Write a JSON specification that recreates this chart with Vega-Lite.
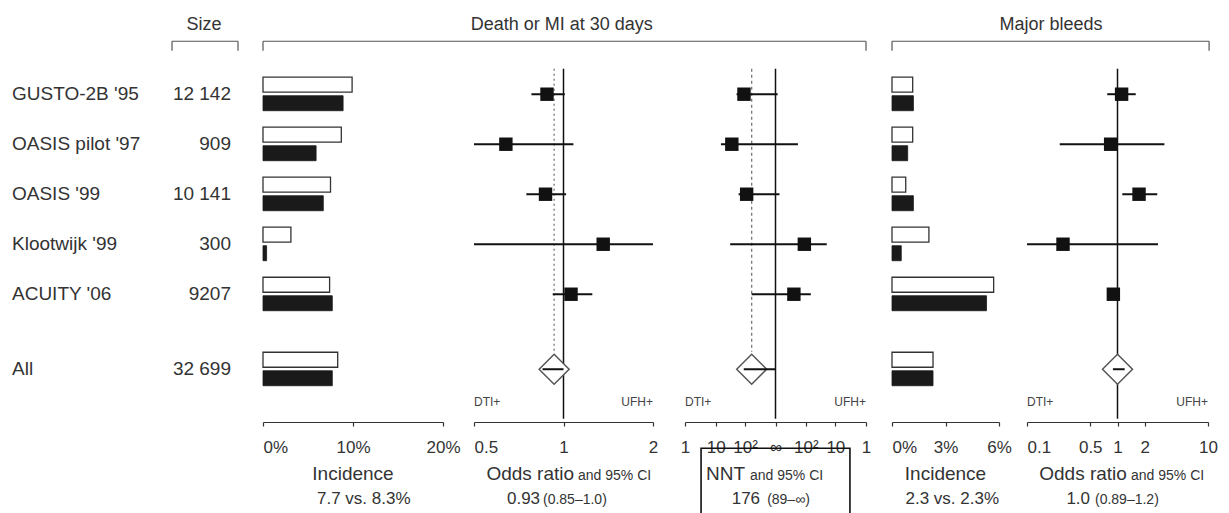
{
 "$schema": "https://vega.github.io/schema/vega-lite/v6.json",
 "width": 1229, "height": 513, "padding": 0,
 "autosize": {"type": "none"},
 "background": "white",
 "config": {
  "view": {"stroke": null},
  "font": "Liberation Sans",
  "axis": {"grid": false, "title": null, "labelFont": "Liberation Sans", "labelFontSize": 17, "labelColor": "#333", "domainColor": "#333", "tickColor": "#333", "domainWidth": 1.2, "tickWidth": 1.2, "labelOverlap": false, "labelBound": false, "labelFlush": false},
  "text": {"font": "Liberation Sans", "color": "#333"}
 },
 "datasets": {
  "rows": [
   {"study": "GUSTO-2B '95", "n": "12 142", "row": 1, "pooled": false, "inc_ufh": 9.9, "inc_dti": 8.9, "or": 0.88, "or_lo": 0.78, "or_hi": 1.01, "ard": -0.011, "ard_lo": -0.02, "ard_hi": 0.0002, "mb_ufh": 1.16, "mb_dti": 1.2, "mb_or": 1.11, "mb_lo": 0.77, "mb_hi": 1.59},
   {"study": "OASIS pilot '97", "n": "909", "row": 2, "pooled": false, "inc_ufh": 8.7, "inc_dti": 5.9, "or": 0.64, "or_lo": 0.5, "or_hi": 1.08, "ard": -0.029, "ard_lo": -0.067, "ard_hi": 0.005, "mb_ufh": 1.16, "mb_dti": 0.88, "mb_or": 0.84, "mb_lo": 0.23, "mb_hi": 3.3},
   {"study": "OASIS '99", "n": "10 141", "row": 3, "pooled": false, "inc_ufh": 7.5, "inc_dti": 6.7, "or": 0.87, "or_lo": 0.75, "or_hi": 1.02, "ard": -0.0088, "ard_lo": -0.017, "ard_hi": 0.0004, "mb_ufh": 0.77, "mb_dti": 1.2, "mb_or": 1.73, "mb_lo": 1.13, "mb_hi": 2.75},
   {"study": "Klootwijk '99", "n": "300", "row": 4, "pooled": false, "inc_ufh": 3.1, "inc_dti": 0.4, "or": 1.36, "or_lo": 0.5, "or_hi": 2.0, "ard": 0.0088, "ard_lo": -0.033, "ard_hi": 0.052, "mb_ufh": 2.07, "mb_dti": 0.52, "mb_or": 0.25, "mb_lo": 0.1, "mb_hi": 2.8},
   {"study": "ACUITY '06", "n": "9207", "row": 5, "pooled": false, "inc_ufh": 7.4, "inc_dti": 7.7, "or": 1.06, "or_lo": 0.92, "or_hi": 1.25, "ard": 0.0034, "ard_lo": -0.0057, "ard_hi": 0.015, "mb_ufh": 5.7, "mb_dti": 5.3, "mb_or": 0.9, "mb_lo": 0.8, "mb_hi": 1.03},
   {"study": "All", "n": "32 699", "row": 6.5, "pooled": true, "inc_ufh": 8.3, "inc_dti": 7.7, "or": 0.93, "or_lo": 0.85, "or_hi": 1.0, "ard": -0.00568, "ard_lo": -0.0112, "ard_hi": 0, "mb_ufh": 2.3, "mb_dti": 2.3, "mb_or": 1.0, "mb_lo": 0.89, "mb_hi": 1.2}
  ]
 },
 "resolve": {"scale": {"x": "independent"}},
 "layer": [
  {"layer": [
   {"data": {"name": "rows"}, "mark": {"type": "text", "align": "left", "fontSize": 19, "color": "#333"},
    "encoding": {"x": {"datum": 0, "type": "quantitative", "scale": {"domain": [0, 1], "range": [12, 231], "nice": false, "zero": false}, "axis": null},
     "y": {"field": "row", "type": "quantitative", "scale": {"domain": [-0.784, 9.275], "reverse": true, "nice": false, "zero": false}, "axis": null},
     "text": {"field": "study"}}},
   {"data": {"name": "rows"}, "mark": {"type": "text", "align": "right", "fontSize": 19, "color": "#333"},
    "encoding": {"x": {"datum": 1, "type": "quantitative", "scale": {"domain": [0, 1], "range": [12, 231], "nice": false, "zero": false}, "axis": null},
     "y": {"field": "row", "type": "quantitative", "scale": {"domain": [-0.784, 9.275], "reverse": true, "nice": false, "zero": false}, "axis": null},
     "text": {"field": "n"}}},
   {"data": {"values": [{}]}, "mark": {"type": "text", "fontSize": 18, "color": "#333", "text": "Size"},
    "encoding": {"x": {"datum": 0.877, "type": "quantitative", "scale": {"domain": [0, 1], "range": [12, 231], "nice": false, "zero": false}, "axis": null},
     "y": {"datum": -0.392, "type": "quantitative", "scale": {"domain": [-0.784, 9.275], "reverse": true, "nice": false, "zero": false}, "axis": null}}},
   {"data": {"values": [{}]}, "mark": {"type": "rule", "color": "#555", "strokeWidth": 1.2},
    "encoding": {"x": {"datum": 0.7306, "type": "quantitative", "scale": {"domain": [0, 1], "range": [12, 231], "nice": false, "zero": false}, "axis": null}, "x2": {"datum": 1.032},
     "y": {"datum": -0.059, "type": "quantitative", "scale": {"domain": [-0.784, 9.275], "reverse": true, "nice": false, "zero": false}, "axis": null}}},
   {"data": {"values": [{}]}, "mark": {"type": "rule", "color": "#555", "strokeWidth": 1.2},
    "encoding": {"x": {"datum": 0.7306, "type": "quantitative", "scale": {"domain": [0, 1], "range": [12, 231], "nice": false, "zero": false}, "axis": null},
     "y": {"datum": -0.059, "type": "quantitative", "scale": {"domain": [-0.784, 9.275], "reverse": true, "nice": false, "zero": false}, "axis": null}, "y2": {"datum": 0.131}}},
   {"data": {"values": [{}]}, "mark": {"type": "rule", "color": "#555", "strokeWidth": 1.2},
    "encoding": {"x": {"datum": 1.032, "type": "quantitative", "scale": {"domain": [0, 1], "range": [12, 231], "nice": false, "zero": false}, "axis": null},
     "y": {"datum": -0.059, "type": "quantitative", "scale": {"domain": [-0.784, 9.275], "reverse": true, "nice": false, "zero": false}, "axis": null}, "y2": {"datum": 0.131}}}
  ]},
  {"layer": [
   {"data": {"name": "rows"}, "mark": {"type": "bar", "orient": "horizontal", "size": 15, "yOffset": -9.5, "fill": "white", "stroke": "#333", "strokeWidth": 1.3},
    "encoding": {"x": {"field": "inc_ufh", "type": "quantitative", "scale": {"domain": [0, 20], "range": [263, 443], "nice": false, "zero": false},
      "axis": {"title": null, "orient": "bottom", "offset": -91, "values": [0, 10, 20], "labelExpr": "datum.value + '%'", "tickSize": 4, "labelPadding": 13, "labelAlign": {"condition": {"test": "datum.value == 0", "value": "left"}, "value": "center"}}},
     "x2": {"datum": 0},
     "y": {"field": "row", "type": "quantitative", "scale": {"domain": [-0.784, 9.275], "reverse": true, "nice": false, "zero": false}, "axis": null}}},
   {"data": {"name": "rows"}, "mark": {"type": "bar", "orient": "horizontal", "size": 15, "yOffset": 9, "fill": "#1a1a1a", "stroke": "#1a1a1a", "strokeWidth": 0.8},
    "encoding": {"x": {"field": "inc_dti", "type": "quantitative", "scale": {"domain": [0, 20], "range": [263, 443], "nice": false, "zero": false}},
     "x2": {"datum": 0},
     "y": {"field": "row", "type": "quantitative", "scale": {"domain": [-0.784, 9.275], "reverse": true, "nice": false, "zero": false}, "axis": null}}},
   {"data": {"values": [{}]}, "mark": {"type": "rule", "color": "#555", "strokeWidth": 1.2},
    "encoding": {"x": {"datum": 0, "type": "quantitative", "scale": {"domain": [0, 20], "range": [263, 443], "nice": false, "zero": false}}, "x2": {"datum": 67},
     "y": {"datum": -0.059, "type": "quantitative", "scale": {"domain": [-0.784, 9.275], "reverse": true, "nice": false, "zero": false}, "axis": null}}},
   {"data": {"values": [{}]}, "mark": {"type": "rule", "color": "#555", "strokeWidth": 1.2},
    "encoding": {"x": {"datum": 0, "type": "quantitative", "scale": {"domain": [0, 20], "range": [263, 443], "nice": false, "zero": false}},
     "y": {"datum": -0.059, "type": "quantitative", "scale": {"domain": [-0.784, 9.275], "reverse": true, "nice": false, "zero": false}, "axis": null}, "y2": {"datum": 0.131}}},
   {"data": {"values": [{}]}, "mark": {"type": "rule", "color": "#555", "strokeWidth": 1.2},
    "encoding": {"x": {"datum": 67, "type": "quantitative", "scale": {"domain": [0, 20], "range": [263, 443], "nice": false, "zero": false}},
     "y": {"datum": -0.059, "type": "quantitative", "scale": {"domain": [-0.784, 9.275], "reverse": true, "nice": false, "zero": false}, "axis": null}, "y2": {"datum": 0.131}}},
   {"data": {"values": [{}]}, "mark": {"type": "text", "fontSize": 18, "color": "#333", "text": "Death or MI at 30 days"},
    "encoding": {"x": {"datum": 33.2, "type": "quantitative", "scale": {"domain": [0, 20], "range": [263, 443], "nice": false, "zero": false}},
     "y": {"datum": -0.392, "type": "quantitative", "scale": {"domain": [-0.784, 9.275], "reverse": true, "nice": false, "zero": false}, "axis": null}}},
   {"data": {"values": [{}]}, "mark": {"type": "text", "fontSize": 19, "color": "#333", "baseline": "alphabetic", "text": "Incidence"},
    "encoding": {"x": {"datum": 10, "type": "quantitative", "scale": {"domain": [0, 20], "range": [263, 443], "nice": false, "zero": false}},
     "y": {"datum": 8.706, "type": "quantitative", "scale": {"domain": [-0.784, 9.275], "reverse": true, "nice": false, "zero": false}, "axis": null}}},
   {"data": {"values": [{}]}, "mark": {"type": "text", "fontSize": 17, "color": "#333", "baseline": "alphabetic", "text": "7.7 vs. 8.3%"},
    "encoding": {"x": {"datum": 11.2, "type": "quantitative", "scale": {"domain": [0, 20], "range": [263, 443], "nice": false, "zero": false}},
     "y": {"datum": 9.196, "type": "quantitative", "scale": {"domain": [-0.784, 9.275], "reverse": true, "nice": false, "zero": false}, "axis": null}}}
  ]},
  {"layer": [
   {"data": {"values": [{}]}, "mark": {"type": "rule", "color": "#111", "strokeWidth": 1.5},
    "encoding": {"x": {"datum": 1, "type": "quantitative", "scale": {"type": "log", "domain": [0.5, 2], "range": [474, 653], "nice": false},
      "axis": {"title": null, "orient": "bottom", "offset": -91, "values": [0.5, 1, 2], "labelExpr": "'' + datum.value", "tickSize": 4, "labelPadding": 13, "labelAlign": {"condition": {"test": "datum.value < 0.6", "value": "left"}, "value": "center"}}},
     "y": {"datum": 0.49, "type": "quantitative", "scale": {"domain": [-0.784, 9.275], "reverse": true, "nice": false, "zero": false}, "axis": null}, "y2": {"datum": 7.49}}},
   {"data": {"values": [{}]}, "mark": {"type": "rule", "color": "#777", "strokeWidth": 1.3, "strokeDash": [2, 3]},
    "encoding": {"x": {"datum": 0.93, "type": "quantitative", "scale": {"type": "log", "domain": [0.5, 2], "range": [474, 653], "nice": false}},
     "y": {"datum": 0.49, "type": "quantitative", "scale": {"domain": [-0.784, 9.275], "reverse": true, "nice": false, "zero": false}, "axis": null}, "y2": {"datum": 6.15}}},
   {"data": {"name": "rows"}, "transform": [{"filter": "!datum.pooled"}], "mark": {"type": "rule", "color": "#111", "strokeWidth": 2},
    "encoding": {"x": {"field": "or_lo", "type": "quantitative", "scale": {"type": "log", "domain": [0.5, 2], "range": [474, 653], "nice": false}}, "x2": {"field": "or_hi"},
     "y": {"field": "row", "type": "quantitative", "scale": {"domain": [-0.784, 9.275], "reverse": true, "nice": false, "zero": false}, "axis": null}}},
   {"data": {"name": "rows"}, "transform": [{"filter": "!datum.pooled"}], "mark": {"type": "point", "shape": "square", "filled": true, "size": 180, "color": "#111", "opacity": 1},
    "encoding": {"x": {"field": "or", "type": "quantitative", "scale": {"type": "log", "domain": [0.5, 2], "range": [474, 653], "nice": false}},
     "y": {"field": "row", "type": "quantitative", "scale": {"domain": [-0.784, 9.275], "reverse": true, "nice": false, "zero": false}, "axis": null}}},
   {"data": {"name": "rows"}, "transform": [{"filter": "datum.pooled"}], "mark": {"type": "point", "shape": "diamond", "filled": true, "size": 900, "fill": "white", "stroke": "#555", "strokeWidth": 1.5, "opacity": 1},
    "encoding": {"x": {"field": "or", "type": "quantitative", "scale": {"type": "log", "domain": [0.5, 2], "range": [474, 653], "nice": false}},
     "y": {"field": "row", "type": "quantitative", "scale": {"domain": [-0.784, 9.275], "reverse": true, "nice": false, "zero": false}, "axis": null}}},
   {"data": {"name": "rows"}, "transform": [{"filter": "datum.pooled"}], "mark": {"type": "rule", "color": "#111", "strokeWidth": 2},
    "encoding": {"x": {"field": "or_lo", "type": "quantitative", "scale": {"type": "log", "domain": [0.5, 2], "range": [474, 653], "nice": false}}, "x2": {"field": "or_hi"},
     "y": {"field": "row", "type": "quantitative", "scale": {"domain": [-0.784, 9.275], "reverse": true, "nice": false, "zero": false}, "axis": null}}},
   {"data": {"values": [{}]}, "mark": {"type": "text", "fontSize": 12, "color": "#444", "align": "left", "text": "DTI+"},
    "encoding": {"x": {"datum": 0.5, "type": "quantitative", "scale": {"type": "log", "domain": [0.5, 2], "range": [474, 653], "nice": false}},
     "y": {"datum": 7.157, "type": "quantitative", "scale": {"domain": [-0.784, 9.275], "reverse": true, "nice": false, "zero": false}, "axis": null}}},
   {"data": {"values": [{}]}, "mark": {"type": "text", "fontSize": 12, "color": "#444", "align": "right", "text": "UFH+"},
    "encoding": {"x": {"datum": 2, "type": "quantitative", "scale": {"type": "log", "domain": [0.5, 2], "range": [474, 653], "nice": false}},
     "y": {"datum": 7.157, "type": "quantitative", "scale": {"domain": [-0.784, 9.275], "reverse": true, "nice": false, "zero": false}, "axis": null}}},
   {"data": {"values": [{}]}, "mark": {"type": "text", "fontSize": 19, "color": "#333", "align": "right", "baseline": "alphabetic", "text": "Odds ratio"},
    "encoding": {"x": {"datum": 1.085, "type": "quantitative", "scale": {"type": "log", "domain": [0.5, 2], "range": [474, 653], "nice": false}},
     "y": {"datum": 8.706, "type": "quantitative", "scale": {"domain": [-0.784, 9.275], "reverse": true, "nice": false, "zero": false}, "axis": null}}},
   {"data": {"values": [{}]}, "mark": {"type": "text", "fontSize": 14, "color": "#333", "align": "left", "baseline": "alphabetic", "text": "and 95% CI"},
    "encoding": {"x": {"datum": 1.119, "type": "quantitative", "scale": {"type": "log", "domain": [0.5, 2], "range": [474, 653], "nice": false}},
     "y": {"datum": 8.706, "type": "quantitative", "scale": {"domain": [-0.784, 9.275], "reverse": true, "nice": false, "zero": false}, "axis": null}}},
   {"data": {"values": [{}]}, "mark": {"type": "text", "fontSize": 17, "color": "#333", "align": "right", "baseline": "alphabetic", "text": "0.93"},
    "encoding": {"x": {"datum": 0.834, "type": "quantitative", "scale": {"type": "log", "domain": [0.5, 2], "range": [474, 653], "nice": false}},
     "y": {"datum": 9.196, "type": "quantitative", "scale": {"domain": [-0.784, 9.275], "reverse": true, "nice": false, "zero": false}, "axis": null}}},
   {"data": {"values": [{}]}, "mark": {"type": "text", "fontSize": 14, "color": "#333", "align": "left", "baseline": "alphabetic", "text": "(0.85–1.0)"},
    "encoding": {"x": {"datum": 0.853, "type": "quantitative", "scale": {"type": "log", "domain": [0.5, 2], "range": [474, 653], "nice": false}},
     "y": {"datum": 9.196, "type": "quantitative", "scale": {"domain": [-0.784, 9.275], "reverse": true, "nice": false, "zero": false}, "axis": null}}}
  ]},
  {"layer": [
   {"data": {"values": [{}]}, "mark": {"type": "rule", "color": "#111", "strokeWidth": 1.5},
    "encoding": {"x": {"datum": 0, "type": "quantitative", "scale": {"type": "symlog", "constant": 0.00115, "domain": [-1, 1], "range": [685, 866], "nice": false, "zero": false},
      "axis": {"title": null, "orient": "bottom", "offset": -91, "values": [-1, -0.1, -0.01, 0, 0.01, 0.1, 1], "labelExpr": "datum.value == 0 ? '∞' : abs(datum.value) > 0.5 ? '1' : abs(datum.value) > 0.05 ? '10' : '10²'", "tickSize": 4, "labelPadding": 13}},
     "y": {"datum": 0.49, "type": "quantitative", "scale": {"domain": [-0.784, 9.275], "reverse": true, "nice": false, "zero": false}, "axis": null}, "y2": {"datum": 7.49}}},
   {"data": {"values": [{}]}, "mark": {"type": "rule", "color": "#777", "strokeWidth": 1.3, "strokeDash": [3, 3]},
    "encoding": {"x": {"datum": -0.00568, "type": "quantitative", "scale": {"type": "symlog", "constant": 0.00115, "domain": [-1, 1], "range": [685, 866], "nice": false, "zero": false}},
     "y": {"datum": 0.49, "type": "quantitative", "scale": {"domain": [-0.784, 9.275], "reverse": true, "nice": false, "zero": false}, "axis": null}, "y2": {"datum": 6.15}}},
   {"data": {"name": "rows"}, "transform": [{"filter": "!datum.pooled"}], "mark": {"type": "rule", "color": "#111", "strokeWidth": 2},
    "encoding": {"x": {"field": "ard_lo", "type": "quantitative", "scale": {"type": "symlog", "constant": 0.00115, "domain": [-1, 1], "range": [685, 866], "nice": false, "zero": false}}, "x2": {"field": "ard_hi"},
     "y": {"field": "row", "type": "quantitative", "scale": {"domain": [-0.784, 9.275], "reverse": true, "nice": false, "zero": false}, "axis": null}}},
   {"data": {"name": "rows"}, "transform": [{"filter": "!datum.pooled"}], "mark": {"type": "point", "shape": "square", "filled": true, "size": 180, "color": "#111", "opacity": 1},
    "encoding": {"x": {"field": "ard", "type": "quantitative", "scale": {"type": "symlog", "constant": 0.00115, "domain": [-1, 1], "range": [685, 866], "nice": false, "zero": false}},
     "y": {"field": "row", "type": "quantitative", "scale": {"domain": [-0.784, 9.275], "reverse": true, "nice": false, "zero": false}, "axis": null}}},
   {"data": {"name": "rows"}, "transform": [{"filter": "datum.pooled"}], "mark": {"type": "point", "shape": "diamond", "filled": true, "size": 900, "fill": "white", "stroke": "#555", "strokeWidth": 1.5, "opacity": 1},
    "encoding": {"x": {"field": "ard", "type": "quantitative", "scale": {"type": "symlog", "constant": 0.00115, "domain": [-1, 1], "range": [685, 866], "nice": false, "zero": false}},
     "y": {"field": "row", "type": "quantitative", "scale": {"domain": [-0.784, 9.275], "reverse": true, "nice": false, "zero": false}, "axis": null}}},
   {"data": {"name": "rows"}, "transform": [{"filter": "datum.pooled"}], "mark": {"type": "rule", "color": "#111", "strokeWidth": 2},
    "encoding": {"x": {"field": "ard_lo", "type": "quantitative", "scale": {"type": "symlog", "constant": 0.00115, "domain": [-1, 1], "range": [685, 866], "nice": false, "zero": false}}, "x2": {"field": "ard_hi"},
     "y": {"field": "row", "type": "quantitative", "scale": {"domain": [-0.784, 9.275], "reverse": true, "nice": false, "zero": false}, "axis": null}}},
   {"data": {"values": [{}]}, "mark": {"type": "text", "fontSize": 12, "color": "#444", "align": "left", "text": "DTI+"},
    "encoding": {"x": {"datum": -1, "type": "quantitative", "scale": {"type": "symlog", "constant": 0.00115, "domain": [-1, 1], "range": [685, 866], "nice": false, "zero": false}},
     "y": {"datum": 7.157, "type": "quantitative", "scale": {"domain": [-0.784, 9.275], "reverse": true, "nice": false, "zero": false}, "axis": null}}},
   {"data": {"values": [{}]}, "mark": {"type": "text", "fontSize": 12, "color": "#444", "align": "right", "text": "UFH+"},
    "encoding": {"x": {"datum": 1, "type": "quantitative", "scale": {"type": "symlog", "constant": 0.00115, "domain": [-1, 1], "range": [685, 866], "nice": false, "zero": false}},
     "y": {"datum": 7.157, "type": "quantitative", "scale": {"domain": [-0.784, 9.275], "reverse": true, "nice": false, "zero": false}, "axis": null}}},
   {"data": {"values": [{}]}, "mark": {"type": "rect", "filled": false, "stroke": "#111", "strokeWidth": 1.6},
    "encoding": {"x": {"datum": -0.3, "type": "quantitative", "scale": {"type": "symlog", "constant": 0.00115, "domain": [-1, 1], "range": [685, 866], "nice": false, "zero": false}}, "x2": {"datum": 0.3},
     "y": {"datum": 8.08, "type": "quantitative", "scale": {"domain": [-0.784, 9.275], "reverse": true, "nice": false, "zero": false}, "axis": null}, "y2": {"datum": 9.6}}},
   {"data": {"values": [{}]}, "mark": {"type": "text", "fontSize": 19, "color": "#333", "align": "right", "baseline": "alphabetic", "text": "NNT"},
    "encoding": {"x": {"datum": -0.0101, "type": "quantitative", "scale": {"type": "symlog", "constant": 0.00115, "domain": [-1, 1], "range": [685, 866], "nice": false, "zero": false}},
     "y": {"datum": 8.706, "type": "quantitative", "scale": {"domain": [-0.784, 9.275], "reverse": true, "nice": false, "zero": false}, "axis": null}}},
   {"data": {"values": [{}]}, "mark": {"type": "text", "fontSize": 14, "color": "#333", "align": "left", "baseline": "alphabetic", "text": "and 95% CI"},
    "encoding": {"x": {"datum": -0.0066, "type": "quantitative", "scale": {"type": "symlog", "constant": 0.00115, "domain": [-1, 1], "range": [685, 866], "nice": false, "zero": false}},
     "y": {"datum": 8.706, "type": "quantitative", "scale": {"domain": [-0.784, 9.275], "reverse": true, "nice": false, "zero": false}, "axis": null}}},
   {"data": {"values": [{}]}, "mark": {"type": "text", "fontSize": 17, "color": "#333", "align": "right", "baseline": "alphabetic", "text": "176"},
    "encoding": {"x": {"datum": -0.0025, "type": "quantitative", "scale": {"type": "symlog", "constant": 0.00115, "domain": [-1, 1], "range": [685, 866], "nice": false, "zero": false}},
     "y": {"datum": 9.196, "type": "quantitative", "scale": {"domain": [-0.784, 9.275], "reverse": true, "nice": false, "zero": false}, "axis": null}}},
   {"data": {"values": [{}]}, "mark": {"type": "text", "fontSize": 14, "color": "#333", "align": "left", "baseline": "alphabetic", "text": "(89–∞)"},
    "encoding": {"x": {"datum": -0.001, "type": "quantitative", "scale": {"type": "symlog", "constant": 0.00115, "domain": [-1, 1], "range": [685, 866], "nice": false, "zero": false}},
     "y": {"datum": 9.196, "type": "quantitative", "scale": {"domain": [-0.784, 9.275], "reverse": true, "nice": false, "zero": false}, "axis": null}}}
  ]},
  {"layer": [
   {"data": {"name": "rows"}, "mark": {"type": "bar", "orient": "horizontal", "size": 15, "yOffset": -9.5, "fill": "white", "stroke": "#333", "strokeWidth": 1.3},
    "encoding": {"x": {"field": "mb_ufh", "type": "quantitative", "scale": {"domain": [0, 6], "range": [892, 999], "nice": false, "zero": false},
      "axis": {"title": null, "orient": "bottom", "offset": -91, "values": [0, 3, 6], "labelExpr": "datum.value + '%'", "tickSize": 4, "labelPadding": 13, "labelAlign": {"condition": {"test": "datum.value == 0", "value": "left"}, "value": "center"}}},
     "x2": {"datum": 0},
     "y": {"field": "row", "type": "quantitative", "scale": {"domain": [-0.784, 9.275], "reverse": true, "nice": false, "zero": false}, "axis": null}}},
   {"data": {"name": "rows"}, "mark": {"type": "bar", "orient": "horizontal", "size": 15, "yOffset": 9, "fill": "#1a1a1a", "stroke": "#1a1a1a", "strokeWidth": 0.8},
    "encoding": {"x": {"field": "mb_dti", "type": "quantitative", "scale": {"domain": [0, 6], "range": [892, 999], "nice": false, "zero": false}},
     "x2": {"datum": 0},
     "y": {"field": "row", "type": "quantitative", "scale": {"domain": [-0.784, 9.275], "reverse": true, "nice": false, "zero": false}, "axis": null}}},
   {"data": {"values": [{}]}, "mark": {"type": "rule", "color": "#555", "strokeWidth": 1.2},
    "encoding": {"x": {"datum": 0, "type": "quantitative", "scale": {"domain": [0, 6], "range": [892, 999], "nice": false, "zero": false}}, "x2": {"datum": 17.78},
     "y": {"datum": -0.059, "type": "quantitative", "scale": {"domain": [-0.784, 9.275], "reverse": true, "nice": false, "zero": false}, "axis": null}}},
   {"data": {"values": [{}]}, "mark": {"type": "rule", "color": "#555", "strokeWidth": 1.2},
    "encoding": {"x": {"datum": 0, "type": "quantitative", "scale": {"domain": [0, 6], "range": [892, 999], "nice": false, "zero": false}},
     "y": {"datum": -0.059, "type": "quantitative", "scale": {"domain": [-0.784, 9.275], "reverse": true, "nice": false, "zero": false}, "axis": null}, "y2": {"datum": 0.131}}},
   {"data": {"values": [{}]}, "mark": {"type": "rule", "color": "#555", "strokeWidth": 1.2},
    "encoding": {"x": {"datum": 17.78, "type": "quantitative", "scale": {"domain": [0, 6], "range": [892, 999], "nice": false, "zero": false}},
     "y": {"datum": -0.059, "type": "quantitative", "scale": {"domain": [-0.784, 9.275], "reverse": true, "nice": false, "zero": false}, "axis": null}, "y2": {"datum": 0.131}}},
   {"data": {"values": [{}]}, "mark": {"type": "text", "fontSize": 18, "color": "#333", "text": "Major bleeds"},
    "encoding": {"x": {"datum": 8.92, "type": "quantitative", "scale": {"domain": [0, 6], "range": [892, 999], "nice": false, "zero": false}},
     "y": {"datum": -0.392, "type": "quantitative", "scale": {"domain": [-0.784, 9.275], "reverse": true, "nice": false, "zero": false}, "axis": null}}},
   {"data": {"values": [{}]}, "mark": {"type": "text", "fontSize": 19, "color": "#333", "baseline": "alphabetic", "text": "Incidence"},
    "encoding": {"x": {"datum": 3.0, "type": "quantitative", "scale": {"domain": [0, 6], "range": [892, 999], "nice": false, "zero": false}},
     "y": {"datum": 8.706, "type": "quantitative", "scale": {"domain": [-0.784, 9.275], "reverse": true, "nice": false, "zero": false}, "axis": null}}},
   {"data": {"values": [{}]}, "mark": {"type": "text", "fontSize": 17, "color": "#333", "baseline": "alphabetic", "text": "2.3 vs. 2.3%"},
    "encoding": {"x": {"datum": 3.38, "type": "quantitative", "scale": {"domain": [0, 6], "range": [892, 999], "nice": false, "zero": false}},
     "y": {"datum": 9.196, "type": "quantitative", "scale": {"domain": [-0.784, 9.275], "reverse": true, "nice": false, "zero": false}, "axis": null}}}
  ]},
  {"layer": [
   {"data": {"values": [{}]}, "mark": {"type": "rule", "color": "#111", "strokeWidth": 1.5},
    "encoding": {"x": {"datum": 1, "type": "quantitative", "scale": {"type": "log", "domain": [0.1, 10], "range": [1027, 1208], "nice": false},
      "axis": {"title": null, "orient": "bottom", "offset": -91, "values": [0.1, 0.5, 1, 2, 10], "labelExpr": "'' + datum.value", "tickSize": 4, "labelPadding": 13, "labelAlign": {"condition": {"test": "datum.value < 0.2", "value": "left"}, "value": "center"}}},
     "y": {"datum": 0.49, "type": "quantitative", "scale": {"domain": [-0.784, 9.275], "reverse": true, "nice": false, "zero": false}, "axis": null}, "y2": {"datum": 7.49}}},
   {"data": {"name": "rows"}, "transform": [{"filter": "!datum.pooled"}], "mark": {"type": "rule", "color": "#111", "strokeWidth": 2},
    "encoding": {"x": {"field": "mb_lo", "type": "quantitative", "scale": {"type": "log", "domain": [0.1, 10], "range": [1027, 1208], "nice": false}}, "x2": {"field": "mb_hi"},
     "y": {"field": "row", "type": "quantitative", "scale": {"domain": [-0.784, 9.275], "reverse": true, "nice": false, "zero": false}, "axis": null}}},
   {"data": {"name": "rows"}, "transform": [{"filter": "!datum.pooled"}], "mark": {"type": "point", "shape": "square", "filled": true, "size": 180, "color": "#111", "opacity": 1},
    "encoding": {"x": {"field": "mb_or", "type": "quantitative", "scale": {"type": "log", "domain": [0.1, 10], "range": [1027, 1208], "nice": false}},
     "y": {"field": "row", "type": "quantitative", "scale": {"domain": [-0.784, 9.275], "reverse": true, "nice": false, "zero": false}, "axis": null}}},
   {"data": {"name": "rows"}, "transform": [{"filter": "datum.pooled"}], "mark": {"type": "point", "shape": "diamond", "filled": true, "size": 900, "fill": "white", "stroke": "#555", "strokeWidth": 1.5, "opacity": 1},
    "encoding": {"x": {"field": "mb_or", "type": "quantitative", "scale": {"type": "log", "domain": [0.1, 10], "range": [1027, 1208], "nice": false}},
     "y": {"field": "row", "type": "quantitative", "scale": {"domain": [-0.784, 9.275], "reverse": true, "nice": false, "zero": false}, "axis": null}}},
   {"data": {"name": "rows"}, "transform": [{"filter": "datum.pooled"}], "mark": {"type": "rule", "color": "#111", "strokeWidth": 2},
    "encoding": {"x": {"field": "mb_lo", "type": "quantitative", "scale": {"type": "log", "domain": [0.1, 10], "range": [1027, 1208], "nice": false}}, "x2": {"field": "mb_hi"},
     "y": {"field": "row", "type": "quantitative", "scale": {"domain": [-0.784, 9.275], "reverse": true, "nice": false, "zero": false}, "axis": null}}},
   {"data": {"values": [{}]}, "mark": {"type": "text", "fontSize": 12, "color": "#444", "align": "left", "text": "DTI+"},
    "encoding": {"x": {"datum": 0.1, "type": "quantitative", "scale": {"type": "log", "domain": [0.1, 10], "range": [1027, 1208], "nice": false}},
     "y": {"datum": 7.157, "type": "quantitative", "scale": {"domain": [-0.784, 9.275], "reverse": true, "nice": false, "zero": false}, "axis": null}}},
   {"data": {"values": [{}]}, "mark": {"type": "text", "fontSize": 12, "color": "#444", "align": "right", "text": "UFH+"},
    "encoding": {"x": {"datum": 10, "type": "quantitative", "scale": {"type": "log", "domain": [0.1, 10], "range": [1027, 1208], "nice": false}},
     "y": {"datum": 7.157, "type": "quantitative", "scale": {"domain": [-0.784, 9.275], "reverse": true, "nice": false, "zero": false}, "axis": null}}},
   {"data": {"values": [{}]}, "mark": {"type": "text", "fontSize": 19, "color": "#333", "align": "right", "baseline": "alphabetic", "text": "Odds ratio"},
    "encoding": {"x": {"datum": 1.27, "type": "quantitative", "scale": {"type": "log", "domain": [0.1, 10], "range": [1027, 1208], "nice": false}},
     "y": {"datum": 8.706, "type": "quantitative", "scale": {"domain": [-0.784, 9.275], "reverse": true, "nice": false, "zero": false}, "axis": null}}},
   {"data": {"values": [{}]}, "mark": {"type": "text", "fontSize": 14, "color": "#333", "align": "left", "baseline": "alphabetic", "text": "and 95% CI"},
    "encoding": {"x": {"datum": 1.41, "type": "quantitative", "scale": {"type": "log", "domain": [0.1, 10], "range": [1027, 1208], "nice": false}},
     "y": {"datum": 8.706, "type": "quantitative", "scale": {"domain": [-0.784, 9.275], "reverse": true, "nice": false, "zero": false}, "axis": null}}},
   {"data": {"values": [{}]}, "mark": {"type": "text", "fontSize": 17, "color": "#333", "align": "right", "baseline": "alphabetic", "text": "1.0"},
    "encoding": {"x": {"datum": 0.497, "type": "quantitative", "scale": {"type": "log", "domain": [0.1, 10], "range": [1027, 1208], "nice": false}},
     "y": {"datum": 9.196, "type": "quantitative", "scale": {"domain": [-0.784, 9.275], "reverse": true, "nice": false, "zero": false}, "axis": null}}},
   {"data": {"values": [{}]}, "mark": {"type": "text", "fontSize": 14, "color": "#333", "align": "left", "baseline": "alphabetic", "text": "(0.89–1.2)"},
    "encoding": {"x": {"datum": 0.564, "type": "quantitative", "scale": {"type": "log", "domain": [0.1, 10], "range": [1027, 1208], "nice": false}},
     "y": {"datum": 9.196, "type": "quantitative", "scale": {"domain": [-0.784, 9.275], "reverse": true, "nice": false, "zero": false}, "axis": null}}}
  ]}
 ]
}
